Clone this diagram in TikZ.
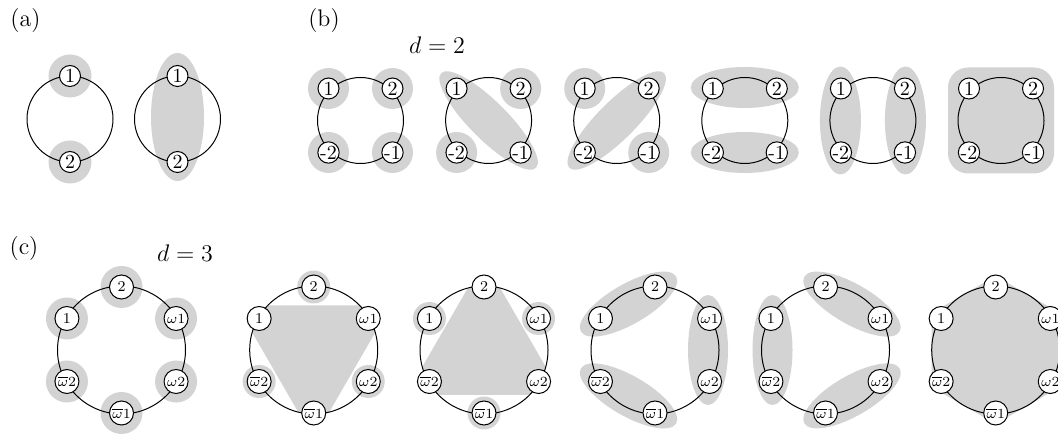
\documentclass[tikz,border=0pt]{standalone}
\usepackage{fontspec}
\definecolor{halo}{RGB}{211,211,211}
\newcommand{\bverts}[1]{%
  \draw[ring] (0,0) circle[radius=43];
  \node[vab] (#1-p1) at (-32,32) {1};
  \node[vab] (#1-p2) at (32,32) {2};
  \node[vab] (#1-m2) at (-32,-32) {-2};
  \node[vab] (#1-m1) at (32,-32) {-1};}
\newcommand{\cverts}[1]{%
  \draw[ring] (0,0) circle[radius=64];
  \node[vc] (#1-a) at (150:63) {1};
  \node[vc] (#1-b) at (90:63) {2};
  \node[vc] (#1-c) at (30:63) {$\omega1$};
  \node[vc] (#1-d) at (-30:63) {$\omega2$};
  \node[vc] (#1-e) at (-90:63) {$\overline{\omega}1$};
  \node[vc] (#1-f) at (210:63) {$\overline{\omega}2$};}
\begin{document}
\begin{tikzpicture}[x=0.5pt,y=0.5pt,
  ring/.style={line width=0.5pt},
  vab/.style={circle,draw,fill=white,line width=0.5pt,inner sep=0pt,minimum size=10.5pt,font=\fontsize{10}{11}\selectfont},
  vc/.style={circle,draw,fill=white,line width=0.5pt,inner sep=0pt,minimum size=12pt,font=\fontsize{7.5}{8}\selectfont},
  lab/.style={font=\fontsize{12}{14}\selectfont}]
\useasboundingbox (0,0) rectangle (1058,433);
% ---------- (a)
\node[lab] (la) at (25.5,412) {(a)};
\begin{scope}[shift={(70,314)}]
  \fill[halo] (0,43) circle[radius=21.5];
  \fill[halo] (0,-43) circle[radius=21.5];
  \draw[ring] (0,0) circle[radius=43];
  \node[vab] (a1-1) at (0,43) {1};
  \node[vab] (a1-2) at (0,-43) {2};
\end{scope}
\begin{scope}[shift={(177.5,314)}]
  \fill[halo] (0,2) ellipse[x radius=26.5, y radius=64];
  \draw[ring] (0,0) circle[radius=43];
  \node[vab] (a2-1) at (0,43) {1};
  \node[vab] (a2-2) at (0,-43) {2};
\end{scope}
% ---------- (b)
\node[lab] (lb) at (324,412) {(b)};
\node[lab] (d2) at (437,388) {$d=2$};
\begin{scope}[shift={(360.5,312.5)}]
  \foreach \p in {(-32,32),(32,32),(-32,-32),(32,-32)} \fill[halo] \p circle[radius=20.5];
  \bverts{b1}
\end{scope}
\begin{scope}[shift={(488.6,312.5)}]
  \fill[halo] (32,32) circle[radius=20.5];
  \fill[halo] (-32,-32) circle[radius=20.5];
  \fill[halo, rotate=-45] (0,0) ellipse[x radius=67, y radius=19];
  \bverts{b2}
\end{scope}
\begin{scope}[shift={(616.7,312.5)}]
  \fill[halo] (-32,32) circle[radius=20.5];
  \fill[halo] (32,-32) circle[radius=20.5];
  \fill[halo, rotate=45] (0,0) ellipse[x radius=67, y radius=19];
  \bverts{b3}
\end{scope}
\begin{scope}[shift={(744.8,312.5)}]
  \fill[halo] (0,33) ellipse[x radius=54, y radius=20.5];
  \fill[halo] (0,-32) ellipse[x radius=54, y radius=20.5];
  \bverts{b4}
\end{scope}
\begin{scope}[shift={(872.9,312.5)}]
  \fill[halo] (-32.5,0) ellipse[x radius=20.5, y radius=54];
  \fill[halo] (32.5,0) ellipse[x radius=20.5, y radius=54];
  \bverts{b5}
\end{scope}
\begin{scope}[shift={(1001,312.5)}]
  \fill[halo, rounded corners=10pt] (-53,-53) rectangle (53,53);
  \bverts{b6}
\end{scope}
% ---------- (c)
\node[lab] (lc) at (24,184) {(c)};
\node[lab] (d3) at (185,180) {$d=3$};
\begin{scope}[shift={(121.5,83)}]
  \foreach \a in {90,30,-30,-90,-150,150} \fill[halo] (\a:63) circle[radius=21];
  \cverts{c1}
\end{scope}
\begin{scope}[shift={(313.7,83)}]
  \foreach \a in {90,-30,-150} \fill[halo] (\a:63) circle[radius=16.5];
  \begin{scope}
    \clip (0,0) circle[radius=64];
    \fill[halo] (150:89) -- (30:89) -- (-90:89) -- cycle;
  \end{scope}
  \cverts{c2}
\end{scope}
\begin{scope}[shift={(484,83)}]
  \foreach \a in {150,30,-90} \fill[halo] (\a:63) circle[radius=16.5];
  \begin{scope}
    \clip (0,0) circle[radius=64];
    \fill[halo] (90:90) -- (-30:90) -- (-150:90) -- cycle;
  \end{scope}
  \cverts{c3}
\end{scope}
\begin{scope}[shift={(655,83)}]
  \foreach \a in {120,0,-120} \fill[halo, rotate=\a] (53,0) ellipse[x radius=20, y radius=55];
  \cverts{c4}
\end{scope}
\begin{scope}[shift={(825.5,83)}]
  \foreach \a in {60,-60,180} \fill[halo, rotate=\a] (53,0) ellipse[x radius=20, y radius=55];
  \cverts{c5}
\end{scope}
\begin{scope}[shift={(995.7,83)}]
  \fill[halo, rounded corners=3pt] (90:74) -- (30:74) -- (-30:74) -- (-90:74) -- (-150:74) -- (150:74) -- cycle;
  \cverts{c6}
\end{scope}
\end{tikzpicture}
\end{document}
